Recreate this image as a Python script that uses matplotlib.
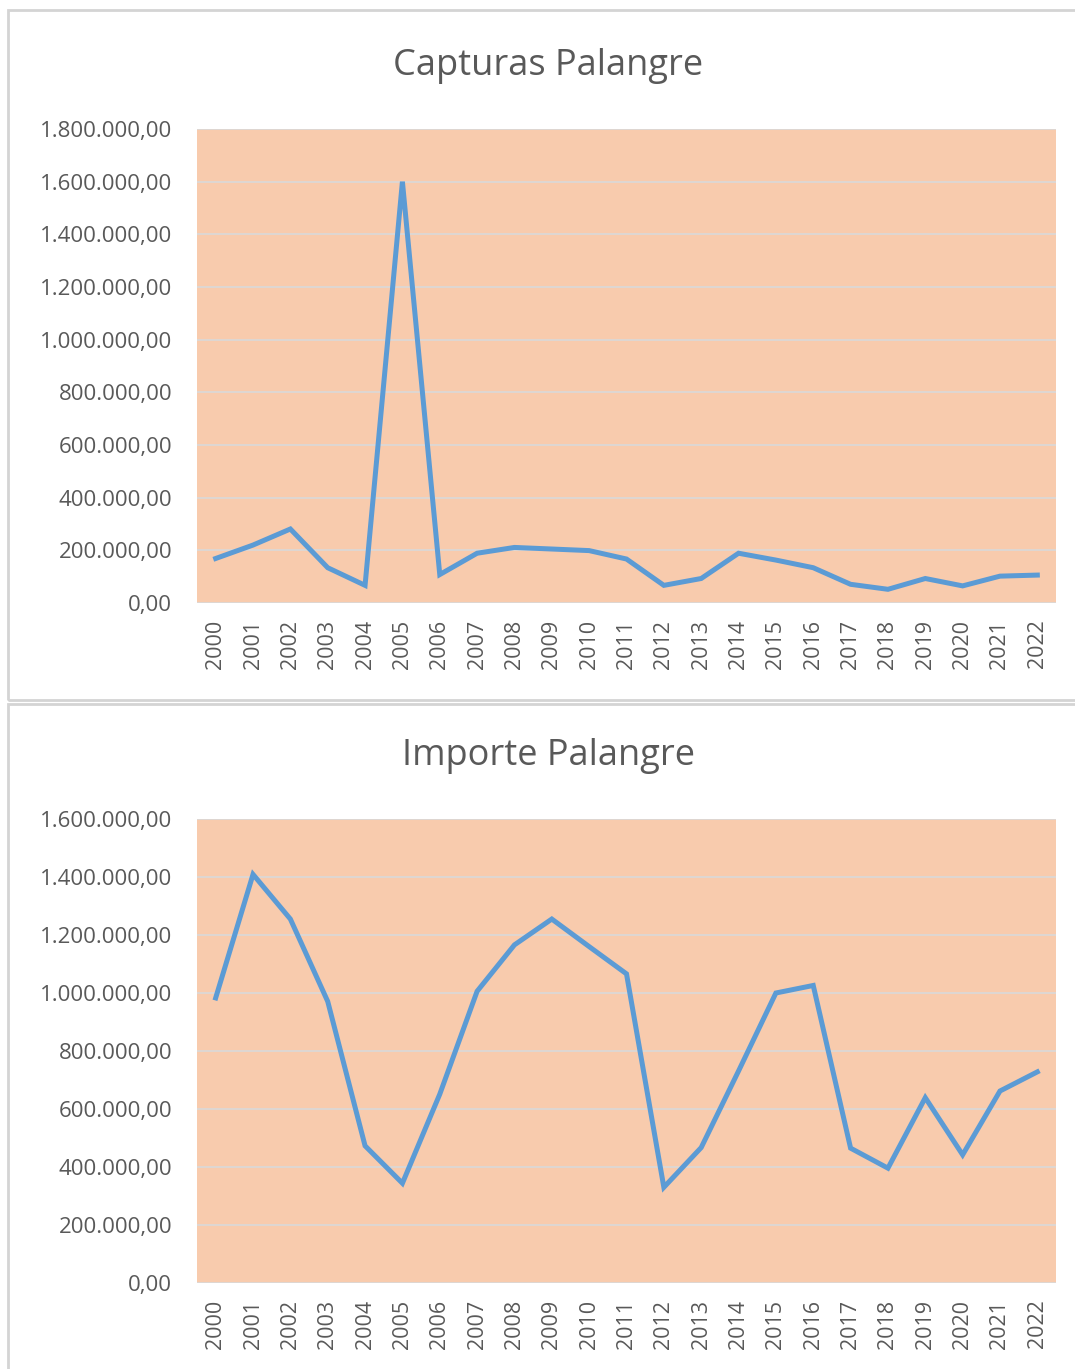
import matplotlib
matplotlib.use("Agg")
import matplotlib.pyplot as plt
from matplotlib.patches import Rectangle
from matplotlib.ticker import FuncFormatter, MultipleLocator

years = [str(y) for y in range(2000, 2023)]
capturas = [169000, 220000, 281000, 134000, 67000, 1600000, 108000, 189000, 211000,
            205000, 199000, 167000, 67000, 93000, 189000, 163000, 134000, 71000,
            52000, 93000, 65000, 102000, 106000]
importe = [983000, 1409000, 1255000, 971000, 473000, 344000, 651000, 1006000, 1166000,
           1255000, 1160000, 1066000, 330000, 467000, 731000, 1000000, 1026000, 465000,
           396000, 639000, 442000, 662000, 728000]

plt.rcParams['font.family'] = ['Open Sans', 'DejaVu Sans']

peach = '#F8CBAD'
blue = '#5B9BD5'
grey_txt = '#595959'
W, H = 1075, 1369


def es_fmt(v, pos):
    s = f"{v:,.2f}"
    return s.replace(',', 'X').replace('.', ',').replace('X', '.')


fig = plt.figure(figsize=(W / 100, H / 100), dpi=100)
fig.patch.set_facecolor('white')

# panel borders
fig.add_artist(Rectangle((8 / W, 1 - 700 / H), 1.0, 690 / H, transform=fig.transFigure,
                         fill=False, edgecolor='#D4D4D4', lw=2))
fig.add_artist(Rectangle((8 / W, -0.01), 1.0, 1 - 704 / H + 0.01, transform=fig.transFigure,
                         fill=False, edgecolor='#D4D4D4', lw=2))


def panel(rect, data, title, ymax, title_y):
    ax = fig.add_axes(rect)
    ax.set_facecolor(peach)
    x = list(range(len(years)))
    ax.plot(x, data, color=blue, lw=3.6, solid_joinstyle='miter', zorder=3)
    ax.set_xlim(-0.5, len(years) - 0.5)
    ax.set_ylim(0, ymax)
    ax.yaxis.set_major_locator(MultipleLocator(200000))
    ax.yaxis.set_major_formatter(FuncFormatter(es_fmt))
    ax.grid(axis='y', color='#D9D9D9', lw=1.2)
    ax.set_axisbelow(True)
    ax.set_xticks(x)
    ax.set_xticklabels(years, rotation=90, fontsize=15.5, color=grey_txt)
    for s in ax.spines.values():
        s.set_visible(False)
    ax.tick_params(axis='both', length=0, colors=grey_txt)
    ax.tick_params(axis='y', labelsize=16, pad=18)
    ax.tick_params(axis='x', pad=12)
    fig.text(548 / W, 1 - title_y / H, title, ha='center', va='center',
             fontsize=26, color=grey_txt)
    return ax


panel([197 / W, 1 - 603 / H, 859 / W, 474 / H], capturas, 'Capturas Palangre', 1800000, 66)
panel([197 / W, 1 - 1283 / H, 859 / W, 464 / H], importe, 'Importe Palangre', 1600000, 756)

fig.savefig('out.png', dpi=100, facecolor='white')
